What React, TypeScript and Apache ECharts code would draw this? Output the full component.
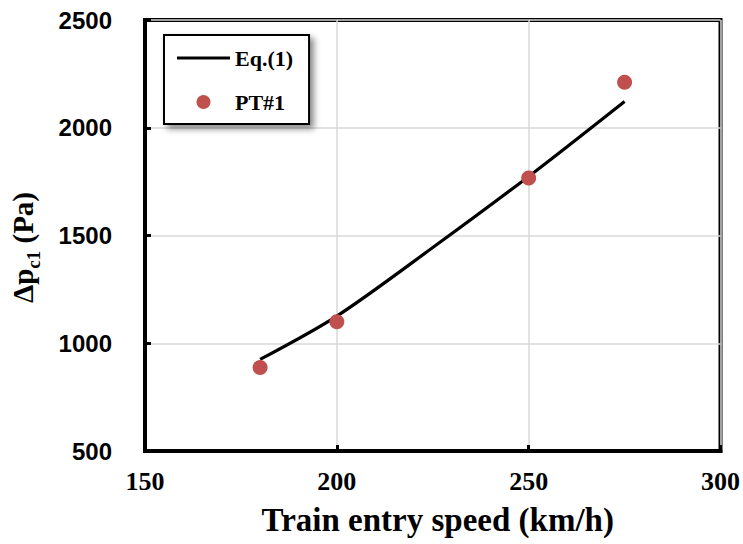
import React, { useEffect, useRef } from "react";
import * as echarts from "echarts";

const eqSpeeds = [180, 200, 225, 250, 275];
const eqValues = [925, 1126, 1444, 1774, 2122];
const ptSpeeds = [180, 200, 250, 275];
const ptValues = [887, 1100, 1767, 2211];
const xTicks = [150, 200, 250, 300];
const yTicks = [500, 1000, 1500, 2000, 2500];

export default function App() {
  const ref = useRef<HTMLDivElement>(null);
  useEffect(() => {
    if (!ref.current) return;
    const chart = echarts.init(ref.current, null, { renderer: "svg" });
    const serif = "'Liberation Serif', 'Times New Roman', serif";
    const sans = "'Liberation Sans', Arial, sans-serif";
    chart.setOption({
      animation: false,
      backgroundColor: "#ffffff",
      grid: {
        left: 145,
        right: 22,
        top: 20,
        bottom: 93,
        show: true,
        borderColor: "#000",
        borderWidth: 4,
        backgroundColor: "transparent",
      },
      legend: {
        left: 164,
        top: 35,
        orient: "vertical",
        backgroundColor: "#fff",
        borderColor: "#000",
        borderWidth: 2,
        borderRadius: 0,
        shadowBlur: 6,
        shadowColor: "rgba(0,0,0,0.45)",
        shadowOffsetX: 4,
        shadowOffsetY: 4,
        padding: [12, 16, 11, 13],
        itemWidth: 53,
        itemHeight: 14,
        itemGap: 22,
        textStyle: {
          fontFamily: serif,
          fontWeight: "bold",
          fontSize: 22,
          lineHeight: 20,
          color: "#000",
        },
        data: [
          { name: "Eq.(1)", icon: "path://M0,0H53V3H0Z", itemStyle: { color: "#000" } },
          { name: "PT#1", icon: "circle" },
        ],
      },
      xAxis: {
        type: "value",
        min: xTicks[0],
        max: xTicks[xTicks.length - 1],
        interval: 50,
        name: "Train entry speed (km/h)",
        nameLocation: "middle",
        nameGap: 52,
        nameTextStyle: {
          fontFamily: serif,
          fontWeight: "bold",
          fontSize: 33,
          color: "#000",
          padding: [0, 0, 0, 10],
        },
        axisLine: { show: true, lineStyle: { color: "#000", width: 4 } },
        axisTick: { show: true, inside: true, length: 6, lineStyle: { color: "#000", width: 3 } },
        axisLabel: {
          margin: 17,
          fontFamily: serif,
          fontWeight: "bold",
          fontSize: 26,
          color: "#000",
        },
        splitLine: { show: true, lineStyle: { color: "#d9d9d9", width: 1.5 } },
      },
      yAxis: {
        type: "value",
        min: yTicks[0],
        max: yTicks[yTicks.length - 1],
        interval: 500,
        name: "{a|Δp}{b|c1}{a| (Pa)}",
        nameLocation: "middle",
        nameRotate: 90,
        nameGap: 102,
        nameTextStyle: {
          color: "#000",
          padding: [0, 24, 0, 0],
          rich: {
            a: { fontFamily: serif, fontWeight: "bold", fontSize: 29, lineHeight: 40, color: "#000" },
            b: { fontFamily: serif, fontWeight: "bold", fontSize: 19, lineHeight: 18, verticalAlign: "bottom", color: "#000" },
          },
        },
        axisLine: { show: true, lineStyle: { color: "#000", width: 4 } },
        axisTick: { show: true, inside: true, length: 6, lineStyle: { color: "#000", width: 3 } },
        axisLabel: {
          margin: 33,
          fontFamily: sans,
          fontWeight: "bold",
          fontSize: 24,
          color: "#000",
          formatter: (v: number) => String(v),
        },
        splitLine: { show: true, lineStyle: { color: "#d9d9d9", width: 1.5 } },
      },
      series: [
        {
          name: "Eq.(1)",
          type: "line",
          data: eqSpeeds.map((s, i) => [s, eqValues[i]]),
          smooth: 0.3,
          symbol: "none",
          lineStyle: { color: "#000", width: 3.2 },
          itemStyle: { color: "#000" },
          z: 3,
        },
        {
          name: "PT#1",
          type: "scatter",
          data: ptSpeeds.map((s, i) => [s, ptValues[i]]),
          symbol: "circle",
          symbolSize: 15,
          itemStyle: { color: "#c0504d", opacity: 1 },
          z: 4,
        },
      ],
    });
    return () => chart.dispose();
  }, []);
  return (
    <div
      ref={ref}
      style={{ position: "fixed", left: 0, top: 0, width: 743, height: 544, background: "#fff" }}
    />
  );
}
